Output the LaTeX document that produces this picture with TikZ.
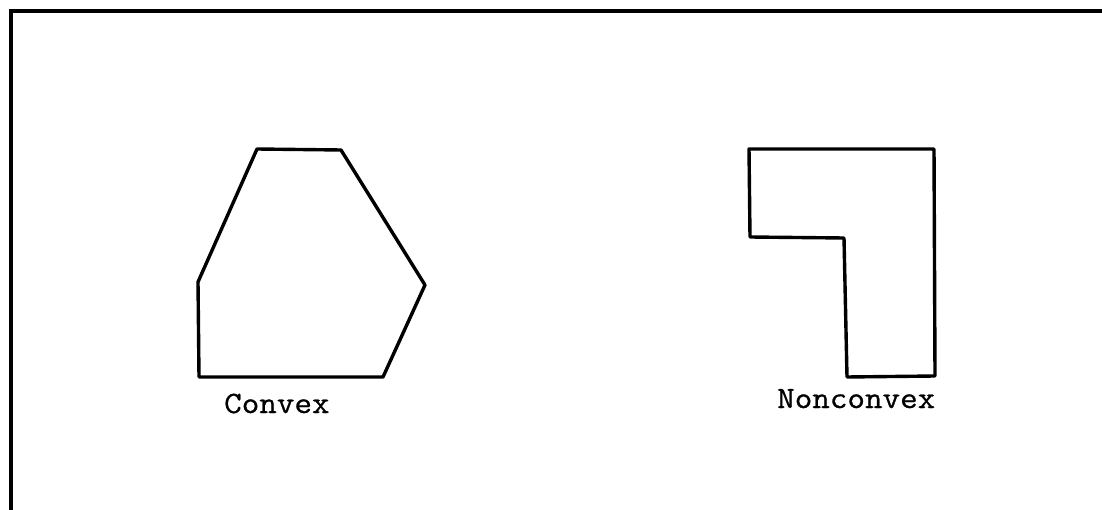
\documentclass[tikz,border=0pt]{standalone}
\usepackage{fontspec}
\setmonofont{Latin Modern Mono}[FakeStretch=1.1,FakeBold=0.8]
\begin{document}
\begin{tikzpicture}[x=1pt,y=-1pt,
  shape line/.style={line width=3.4pt,line join=round,line cap=round},
  label text/.style={font=\ttfamily\fontsize{31}{34}\selectfont,inner sep=0pt,anchor=base west}]
\useasboundingbox (0,0) rectangle (1102,510);
% frame (top and left edges)
\draw[line width=3.4pt] (11,510) -- (11,11) -- (1102,11);
% convex polygon
\draw[shape line] (257,149) -- (341,150) -- (425,285) -- (383,377) -- (199,377) -- (198,282) -- cycle;
% nonconvex polygon
\draw[shape line] (749,149) -- (934,149) -- (935,376) -- (847,377) -- (844,238) -- (750,237) -- cycle;
\node[label text] (convex) at (224,413) {Convex};
\node[label text] (nonconvex) at (777,408) {Nonconvex};
\end{tikzpicture}
\end{document}
